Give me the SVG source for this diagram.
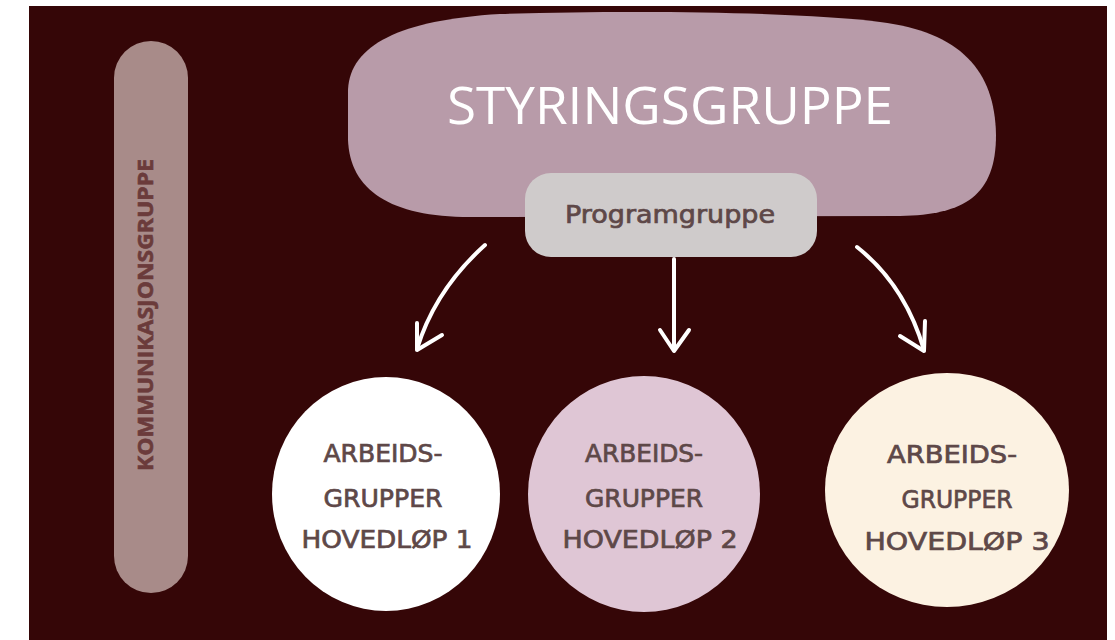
<svg xmlns="http://www.w3.org/2000/svg" width="1115" height="640" viewBox="0 0 1115 640">
<defs>
<style>
.hand{font-family:"DejaVu Sans","Noto Sans",sans-serif;fill:#5e4848;stroke:#5e4848;stroke-width:0.7;font-size:24px;text-anchor:middle}
.arrow{fill:none;stroke:#ffffff;stroke-width:4;stroke-linecap:round;stroke-linejoin:round}
</style>
</defs>
<rect x="0" y="0" width="1115" height="640" fill="#ffffff"/>
<rect x="29" y="6" width="1078" height="634" fill="#350607"/>
<g id="kommunikasjonsgruppe">
<rect x="114" y="41" width="74" height="552" rx="37" fill="#a88b89"/>
<text transform="translate(153,315) rotate(-90)" text-anchor="middle" font-family="'Open Sans','Noto Sans',sans-serif" font-weight="bold" font-size="22" fill="#6b3b3b" stroke="#6b3b3b" stroke-width="0.6" textLength="312" lengthAdjust="spacingAndGlyphs">KOMMUNIKASJONSGRUPPE</text>
</g>
<g id="styringsgruppe">
<path d="M500,14 C640,10 800,12 880,22 C960,32 995,70 996,135 C996,195 965,215 900,216 L470,217 C390,217 350,190 348,140 L348,90 C350,45 400,20 500,14 Z" fill="#b89ba9"/>
<text x="670" y="124" text-anchor="middle" font-family="'Open Sans','Noto Sans',sans-serif" font-size="52" fill="#ffffff" textLength="446" lengthAdjust="spacingAndGlyphs">STYRINGSGRUPPE</text>
</g>
<g id="programgruppe">
<rect x="525" y="173" width="292" height="84" rx="26" fill="#cfcbcb"/>
<text x="670" y="223" class="hand" font-size="22" textLength="210" lengthAdjust="spacingAndGlyphs">Programgruppe</text>
</g>
<g id="connectors">
<path class="arrow" d="M485,245 Q435,290 417,349"/>
<path class="arrow" d="M417,323 L417,350 L442,335"/>
<path class="arrow" d="M674,259 L674,350"/>
<path class="arrow" d="M660,330 L674,351 L689,330"/>
<path class="arrow" d="M857,247 Q905,285 924,350"/>
<path class="arrow" d="M925,321 L924,351 L900,336"/>
</g>
<g id="hovedlop1">
<ellipse cx="386" cy="494" rx="114" ry="117" fill="#ffffff"/>
<text x="383" y="462" class="hand" textLength="119" lengthAdjust="spacingAndGlyphs">ARBEIDS-</text>
<text x="383" y="507" class="hand" textLength="119" lengthAdjust="spacingAndGlyphs">GRUPPER</text>
<text x="387" y="548" class="hand" textLength="171" lengthAdjust="spacingAndGlyphs">HOVEDLØP 1</text>
</g>
<g id="hovedlop2">
<ellipse cx="644" cy="494" rx="116" ry="118" fill="#dfc6d5"/>
<text x="644" y="462" class="hand" textLength="118" lengthAdjust="spacingAndGlyphs">ARBEIDS-</text>
<text x="644" y="507" class="hand" textLength="118" lengthAdjust="spacingAndGlyphs">GRUPPER</text>
<text x="650" y="548" class="hand" textLength="175" lengthAdjust="spacingAndGlyphs">HOVEDLØP 2</text>
</g>
<g id="hovedlop3">
<ellipse cx="947" cy="490" rx="122" ry="117" fill="#fcf2e2"/>
<text x="952" y="463" class="hand" textLength="130" lengthAdjust="spacingAndGlyphs">ARBEIDS-</text>
<text x="957" y="508" class="hand" textLength="111" lengthAdjust="spacingAndGlyphs">GRUPPER</text>
<text x="957" y="550" class="hand" textLength="185" lengthAdjust="spacingAndGlyphs">HOVEDLØP 3</text>
</g>
</svg>
